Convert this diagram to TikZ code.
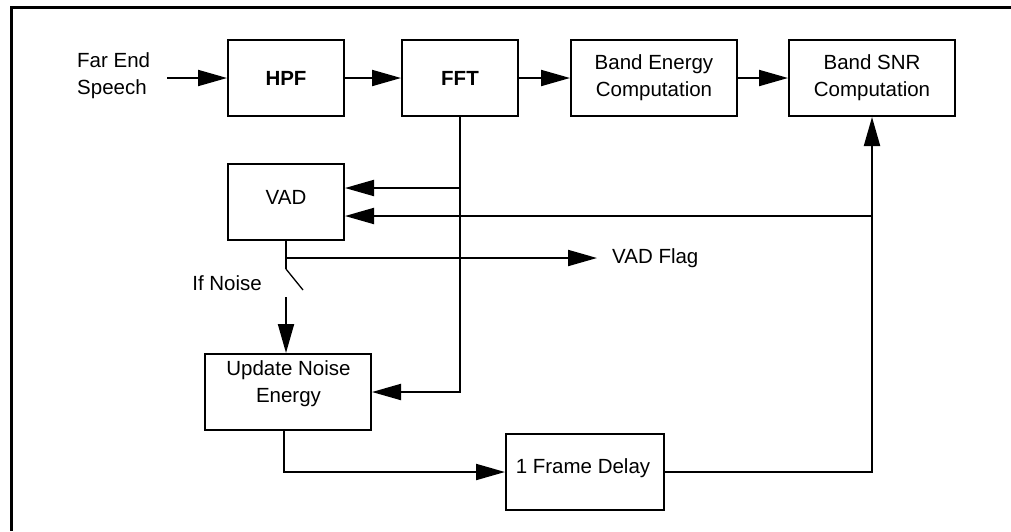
\documentclass[tikz,border=0pt]{standalone}
\usepackage{fontspec}
\setmainfont{Liberation Sans}
\usetikzlibrary{arrows.meta}
\begin{document}
\begin{tikzpicture}[x=1pt,y=-1pt,
  blk/.style={draw, line width=2pt, inner sep=0pt, align=center, minimum height=76pt, font=\fontsize{20.5}{27}\selectfont},
  txt/.style={inner sep=0pt, align=center, font=\fontsize{20.5}{27}\selectfont},
  wire/.style={line width=2pt},
  arr/.style={line width=2pt, -{Triangle[length=29pt,width=16pt]}}]
\useasboundingbox (0,0) rectangle (1011,531);
\draw[line width=3pt] (1011,7.5) -- (11.5,7.5) -- (11.5,531);

% boxes
\node[blk, minimum width=116pt] (hpf) at (286,78) {\bfseries HPF};
\node[blk, minimum width=116pt] (fft) at (460,78) {\bfseries FFT};
\node[blk, minimum width=166pt] (be) at (654,78) {Band Energy\\Computation};
\node[blk, minimum width=166pt] (snr) at (872,78) {Band SNR\\Computation};
\node[blk, minimum width=116pt] (vad) at (286,202) {};
\node[txt] (vadt) at (286,197) {VAD};
\node[blk, minimum width=166pt] (upd) at (288,392) {};
\node[txt] (updt) at (288.5,384) {Update Noise\\Energy};
\node[blk, minimum width=158pt] (delay) at (585,472) {};
\node[txt] (delayt) at (583,468) {1 Frame Delay};

% texts
\node[txt, align=left, anchor=west] (far) at (77,76) {Far End\\Speech};
\node[txt, anchor=west] (flag) at (612,258) {VAD Flag};
\node[txt, anchor=east] (ifn) at (262,283) {If Noise};

% helper coordinates
\coordinate (farout) at (167,78);
\coordinate (fa) at (460,188);
\coordinate (sa) at (872,216);
\coordinate (sw) at (286,297);
\coordinate (swt) at (286,269);

% connectors
\draw[arr] (farout) -- (hpf.west);
\draw[arr] (hpf) -- (fft);
\draw[arr] (fft) -- (be);
\draw[arr] (be) -- (snr);
\draw[arr] (fft.south) |- (upd.east);
\draw[arr] (fa) -- (vad.east |- fa);
\draw[arr] (sa) -- (vad.east |- sa);
\draw[arr] (delay.east) -| (snr.south);
\draw[arr] ([xshift=-4pt]upd.south) |- (delay.west);
\draw[wire] (vad.south) -- (swt);
\draw[line width=1.3pt] (swt) -- ++(17,21);
\draw[arr] (vad.south |- flag.west) -- ([xshift=-15pt]flag.west);
\draw[arr] (sw) -- (sw |- upd.north);
\end{tikzpicture}
\end{document}
